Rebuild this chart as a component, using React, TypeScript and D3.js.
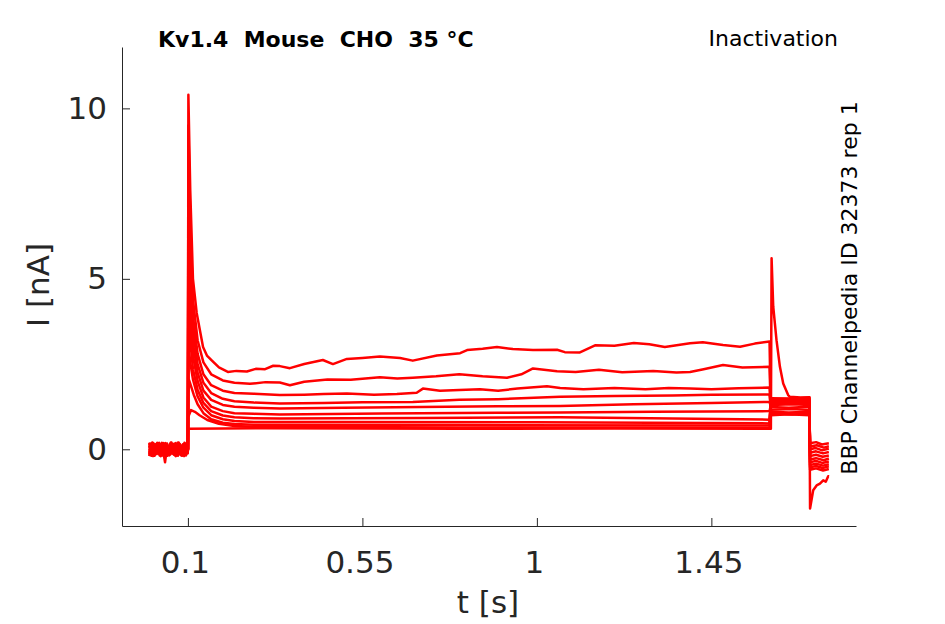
import { useEffect, useRef } from 'react';
import * as d3 from 'd3';

// Kv1.4 inactivation sweeps: [t (s), I (nA)]
const sweep0: [number, number][] = [
  [0, 0.12], [0.009, -0.15], [0.018, 0.1], [0.027, -0.18], [0.036, 0.14], [0.045, -0.1], [0.054, 0.16], [0.063, -0.14], [0.072, 0.08], [0.081, -0.17], [0.09, 0.13], [0.0995, -0.05],
  [0.1, 0], [0.1012, 10.4], [0.106, 7.6], [0.113, 5.0], [0.1226, 4.0], [0.139, 3.0], [0.149, 2.75], [0.162, 2.6], [0.18, 2.4], [0.203, 2.27], [0.225, 2.3], [0.252, 2.28], [0.275, 2.36], [0.299, 2.35], [0.32, 2.45], [0.337, 2.44], [0.363, 2.38], [0.4, 2.5], [0.448, 2.62], [0.474, 2.5], [0.51, 2.65], [0.55, 2.68], [0.595, 2.72], [0.647, 2.68], [0.68, 2.6], [0.742, 2.75], [0.802, 2.82], [0.82, 2.91], [0.86, 2.95], [0.897, 3.0], [0.938, 2.94], [0.99, 2.91], [1.052, 2.92], [1.072, 2.85], [1.111, 2.84], [1.15, 3.05], [1.2, 3.04], [1.25, 3.12], [1.29, 3.08], [1.33, 3.0], [1.395, 3.11], [1.428, 3.14], [1.48, 3.06], [1.524, 3.01], [1.562, 3.1], [1.6, 3.16],
  [1.6035, 1.0], [1.65, 1.03], [1.703, 1.0],
  [1.7045, 0.18], [1.72, 0.21], [1.735, 0.14], [1.753, 0.18],
];
const sweep1: [number, number][] = [
  [0, -0.16], [0.007, 0.14], [0.016, -0.12], [0.025, 0.17], [0.034, -0.16], [0.043, 0.1], [0.052, -0.18], [0.061, 0.15], [0.07, -0.12], [0.079, 0.16], [0.088, -0.15], [0.0995, 0.1],
  [0.1, 0], [0.1012, 9.5], [0.106, 6.6], [0.113, 4.4], [0.125, 3.2], [0.14, 2.55], [0.16, 2.2], [0.19, 2.02], [0.22, 1.95], [0.26, 1.92], [0.3, 1.97], [0.337, 1.96], [0.363, 1.88], [0.4, 1.98], [0.46, 2.05], [0.52, 2.04], [0.595, 2.11], [0.64, 2.08], [0.68, 2.1], [0.74, 2.14], [0.8, 2.2], [0.86, 2.14], [0.923, 2.1], [0.96, 2.2], [0.99, 2.37], [1.052, 2.29], [1.1, 2.27], [1.16, 2.33], [1.22, 2.26], [1.3, 2.3], [1.36, 2.25], [1.395, 2.27], [1.43, 2.35], [1.48, 2.47], [1.53, 2.4], [1.6, 2.42],
  [1.6035, 1.04], [1.66, 1.02], [1.703, 1.05],
  [1.7045, 0.08], [1.722, 0.12], [1.74, 0.05], [1.753, 0.09],
];
const sweep2: [number, number][] = [
  [0, 0.05], [0.011, 0.18], [0.02, -0.14], [0.031, 0.12], [0.04, -0.2], [0.05, 0.08], [0.06, -0.12], [0.068, 0.18], [0.078, -0.08], [0.087, 0.15], [0.095, -0.18], [0.0995, 0.02],
  [0.1, 0], [0.1012, 8.5], [0.106, 5.8], [0.113, 3.9], [0.125, 2.8], [0.14, 2.2], [0.16, 1.88], [0.19, 1.72], [0.22, 1.65], [0.27, 1.63], [0.337, 1.59], [0.4, 1.6], [0.45, 1.62], [0.51, 1.64], [0.58, 1.6], [0.639, 1.62], [0.69, 1.66], [0.706, 1.78], [0.75, 1.72], [0.8, 1.74], [0.853, 1.76], [0.9, 1.72], [0.95, 1.78], [1.026, 1.85], [1.06, 1.8], [1.12, 1.76], [1.2, 1.8], [1.28, 1.76], [1.34, 1.8], [1.395, 1.78], [1.45, 1.76], [1.52, 1.79], [1.6, 1.81],
  [1.6035, 1.1], [1.65, 1.08], [1.703, 1.1],
  [1.7045, 0.0], [1.718, 0.04], [1.736, -0.03], [1.753, 0.02],
];
const sweep3: [number, number][] = [
  [0, -0.08], [0.006, -0.19], [0.015, 0.15], [0.024, -0.06], [0.033, 0.19], [0.041, -0.38], [0.044, -0.12], [0.053, 0.11], [0.064, -0.16], [0.073, 0.19], [0.084, -0.1], [0.093, 0.12], [0.0995, -0.1],
  [0.1, 0], [0.1012, 7.5], [0.106, 5.1], [0.113, 3.5], [0.125, 2.5], [0.14, 1.95], [0.16, 1.65], [0.19, 1.48], [0.22, 1.41], [0.27, 1.37], [0.337, 1.34], [0.45, 1.36], [0.55, 1.38], [0.68, 1.39], [0.8, 1.45], [0.9, 1.47], [1.06, 1.54], [1.2, 1.56], [1.35, 1.58], [1.45, 1.6], [1.6, 1.61],
  [1.6035, 1.16], [1.66, 1.18], [1.703, 1.15],
  [1.7045, -0.1], [1.72, -0.06], [1.738, -0.12], [1.753, -0.08],
];
const sweep4: [number, number][] = [
  [0, 0.18], [0.01, -0.1], [0.019, 0.16], [0.028, -0.15], [0.038, 0.05], [0.047, -0.19], [0.057, 0.14], [0.066, -0.05], [0.075, 0.17], [0.085, -0.19], [0.094, 0.06], [0.0995, 0.15],
  [0.1, 0], [0.1012, 6.5], [0.106, 4.5], [0.113, 3.1], [0.125, 2.25], [0.14, 1.72], [0.16, 1.45], [0.19, 1.3], [0.22, 1.25], [0.27, 1.22], [0.337, 1.2], [0.5, 1.22], [0.7, 1.24], [0.9, 1.26], [1.06, 1.27], [1.25, 1.32], [1.45, 1.36], [1.6, 1.39],
  [1.6035, 1.24], [1.65, 1.22], [1.703, 1.25],
  [1.7045, -0.2], [1.72, -0.16], [1.737, -0.22], [1.753, -0.18],
];
const sweep5: [number, number][] = [
  [0, -0.2], [0.008, 0.1], [0.017, -0.04], [0.026, 0.19], [0.035, -0.11], [0.046, 0.17], [0.055, -0.15], [0.065, 0.04], [0.074, -0.19], [0.083, 0.1], [0.092, -0.06], [0.0995, 0.17],
  [0.1, 0], [0.1012, 5.5], [0.106, 3.9], [0.113, 2.75], [0.125, 2.0], [0.14, 1.52], [0.16, 1.25], [0.19, 1.12], [0.22, 1.06], [0.27, 1.04], [0.337, 1.02], [0.6, 1.05], [0.9, 1.07], [1.06, 1.08], [1.3, 1.1], [1.6, 1.12],
  [1.6035, 1.3], [1.66, 1.32], [1.703, 1.3],
  [1.7045, -0.3], [1.72, -0.26], [1.74, -0.32], [1.753, -0.27],
];
const sweep6: [number, number][] = [
  [0, 0.15], [0.012, -0.06], [0.021, 0.19], [0.03, -0.17], [0.039, 0.06], [0.049, -0.15], [0.058, 0.19], [0.067, -0.18], [0.077, 0.11], [0.086, -0.04], [0.096, 0.18], [0.0995, 0],
  [0.1, 0], [0.1012, 4.4], [0.106, 3.2], [0.113, 2.35], [0.125, 1.75], [0.14, 1.36], [0.16, 1.12], [0.19, 0.99], [0.22, 0.94], [0.27, 0.91], [0.337, 0.9], [0.7, 0.92], [1.06, 0.94], [1.35, 0.9], [1.6, 0.87],
  [1.6035, 1.36], [1.65, 1.35], [1.703, 1.37],
  [1.7045, -0.38], [1.72, -0.34], [1.736, -0.4], [1.753, -0.36],
];
const sweep7: [number, number][] = [
  [0, -0.1], [0.005, 0.16], [0.014, -0.19], [0.023, 0.04], [0.032, -0.14], [0.042, 0.18], [0.051, -0.06], [0.059, 0.1], [0.069, -0.2], [0.08, 0.13], [0.089, -0.13], [0.0995, 0.06],
  [0.1, 0], [0.1012, 3.1], [0.106, 2.55], [0.113, 2.05], [0.125, 1.55], [0.14, 1.22], [0.16, 1.0], [0.19, 0.88], [0.22, 0.83], [0.27, 0.8], [0.5, 0.8], [1.0, 0.79], [1.6, 0.76],
  [1.6035, 1.42], [1.66, 1.41], [1.703, 1.43],
  [1.7045, -0.46], [1.72, -0.42], [1.738, -0.48], [1.753, -0.44],
];
const sweep8: [number, number][] = [
  [0, 0.09], [0.01, -0.2], [0.022, 0.06], [0.029, -0.1], [0.037, 0.18], [0.048, -0.07], [0.056, 0.2], [0.062, -0.1], [0.071, 0.14], [0.082, -0.14], [0.091, 0.19], [0.0995, -0.12],
  [0.1, 0], [0.1008, 1.6], [0.103, 2.03], [0.108, 1.85], [0.115, 1.6], [0.125, 1.32], [0.14, 1.06], [0.16, 0.88], [0.19, 0.78], [0.22, 0.74], [0.27, 0.72], [0.8, 0.71], [1.6, 0.7],
  [1.6035, 1.46], [1.65, 1.45], [1.703, 1.47],
  [1.7045, -0.53], [1.72, -0.49], [1.737, -0.55], [1.753, -0.5],
];
const sweep9: [number, number][] = [
  [0, -0.04], [0.008, 0.2], [0.019, -0.08], [0.028, 0.15], [0.036, -0.19], [0.044, 0.13], [0.053, -0.02], [0.064, 0.16], [0.073, -0.16], [0.082, 0.02], [0.09, -0.2], [0.0995, 0.14],
  [0.1, 0], [0.1008, 0.95], [0.108, 1.15], [0.118, 1.1], [0.13, 1.0], [0.15, 0.86], [0.18, 0.75], [0.22, 0.68], [0.27, 0.66], [0.8, 0.64], [1.6, 0.63],
  [1.6035, 1.5], [1.66, 1.49], [1.703, 1.51],
  [1.7045, -0.6], [1.72, -0.56], [1.738, -0.62], [1.753, -0.58],
];
const sweep10: [number, number][] = [
  [0, 0.2], [0.013, -0.13], [0.02, 0.03], [0.03, -0.2], [0.039, 0.16], [0.048, -0.13], [0.059, 0.02], [0.068, -0.15], [0.076, 0.2], [0.085, -0.08], [0.097, 0.1], [0.0995, -0.08],
  [0.1, 0], [0.1008, 0.6], [0.3, 0.62], [0.8, 0.6], [1.2, 0.61], [1.6, 0.6],
  [1.6035, 0.6], [1.6053, 5.6], [1.6095, 4.19], [1.618, 3.2], [1.6268, 2.42], [1.6353, 1.93], [1.648, 1.59], [1.6525, 1.54], [1.68, 1.52], [1.703, 1.53],
  [1.7045, -1.74], [1.7126, -1.2], [1.7214, -1.06], [1.73, -1.01], [1.7384, -0.91], [1.745, -0.95], [1.7513, -0.79], [1.753, -0.8],
];

const sweeps = [sweep0, sweep1, sweep2, sweep3, sweep4, sweep5, sweep6, sweep7, sweep8, sweep9, sweep10];

const xTicks = [0.1, 0.55, 1, 1.45];
const yTicks = [0, 5, 10];

const W = 945;
const H = 624;
const FONT = '"DejaVu Sans", sans-serif';
const AXIS_COLOR = '#262626';

export default function App() {
  const svgRef = useRef<SVGSVGElement>(null);

  useEffect(() => {
    if (!svgRef.current) return;
    const svg = d3.select(svgRef.current);
    svg.selectAll('*').remove();

    const x = d3.scaleLinear().domain([-0.07, 1.823]).range([122, 856]);
    const y = d3.scaleLinear().domain([-2.25, 11.8]).range([526, 47]);

    svg.append('rect').attr('width', W).attr('height', H).attr('fill', '#fff');

    // Traces
    const line = d3.line<[number, number]>()
      .x(d => x(d[0]))
      .y(d => y(d[1]));

    svg.append('g')
      .selectAll('path')
      .data(sweeps)
      .enter()
      .append('path')
      .attr('d', d => line(d))
      .attr('fill', 'none')
      .attr('stroke', '#ff0000')
      .attr('stroke-width', 2.5)
      .attr('stroke-linejoin', 'round');

    // X axis
    const gx = svg.append('g')
      .attr('transform', 'translate(0,526)')
      .call(d3.axisBottom(x).tickValues(xTicks).tickSize(-8).tickSizeOuter(0).tickPadding(25).tickFormat(d => String(d)));
    gx.select('.domain').attr('stroke', AXIS_COLOR);
    gx.selectAll('line').attr('stroke', AXIS_COLOR);
    gx.selectAll('text')
      .attr('dx', '-3')
      .style('font-family', FONT)
      .style('font-size', '31px')
      .attr('fill', AXIS_COLOR);

    // Y axis
    const gy = svg.append('g')
      .attr('transform', 'translate(122,0)')
      .call(d3.axisLeft(y).tickValues(yTicks).tickSize(-8).tickSizeOuter(0).tickPadding(15));
    gy.select('.domain').attr('stroke', AXIS_COLOR);
    gy.selectAll('line').attr('stroke', AXIS_COLOR);
    gy.selectAll('text')
      .style('font-family', FONT)
      .style('font-size', '31px')
      .attr('fill', AXIS_COLOR);

    // Axis labels
    svg.append('text')
      .attr('x', 488)
      .attr('y', 613)
      .attr('text-anchor', 'middle')
      .style('font-family', FONT)
      .style('font-size', '31px')
      .attr('fill', AXIS_COLOR)
      .text('t [s]');

    svg.append('text')
      .attr('transform', 'translate(49,285) rotate(-90)')
      .attr('text-anchor', 'middle')
      .style('font-family', FONT)
      .style('font-size', '31px')
      .attr('fill', AXIS_COLOR)
      .text('I [nA]');

    // Titles
    svg.append('text')
      .attr('x', 158)
      .attr('y', 47)
      .style('font-family', FONT)
      .style('font-size', '22px')
      .style('font-weight', 'bold')
      .style('white-space', 'pre')
      .attr('fill', '#000')
      .text('Kv1.4  Mouse  CHO  35 °C');

    svg.append('text')
      .attr('x', 838)
      .attr('y', 46)
      .attr('text-anchor', 'end')
      .style('font-family', FONT)
      .style('font-size', '22px')
      .attr('fill', '#000')
      .text('Inactivation');

    svg.append('text')
      .attr('transform', 'translate(857,288) rotate(-90)')
      .attr('text-anchor', 'middle')
      .style('font-family', FONT)
      .style('font-size', '22px')
      .attr('fill', '#000')
      .text('BBP Channelpedia ID 32373 rep 1');
  }, []);

  return (
    <svg
      ref={svgRef}
      width={W}
      height={H}
      viewBox={`0 0 ${W} ${H}`}
      style={{ position: 'absolute', left: 0, top: 0 }}
    />
  );
}
